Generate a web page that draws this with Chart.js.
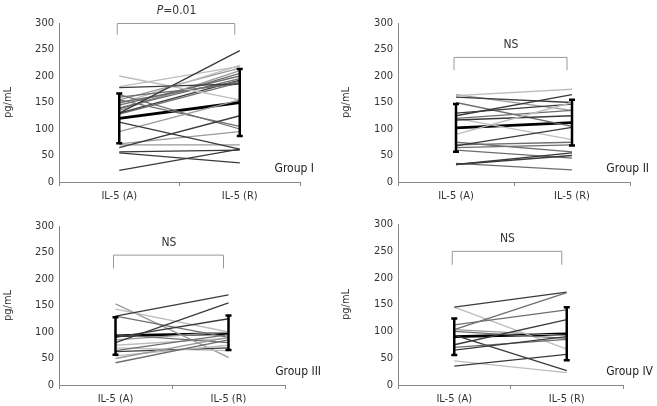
<!DOCTYPE html>
<html lang="en">
<head>
<meta charset="UTF-8">
<title>IL-5 groups</title>
<style>
  body { margin: 0; background: #fff; overflow: hidden; }
  .panel { position: absolute; }
</style>
</head>
<body>
<div class="panel" style="left:0;top:0;width:330px;height:205px"><canvas id="c1"></canvas></div>
<div class="panel" style="left:330px;top:0;width:327px;height:205px"><canvas id="c2"></canvas></div>
<div class="panel" style="left:0;top:205px;width:330px;height:201px"><canvas id="c3"></canvas></div>
<div class="panel" style="left:330px;top:205px;width:327px;height:201px"><canvas id="c4"></canvas></div>

<script src="https://cdn.jsdelivr.net/npm/chart.js"></script>
<script>
const labels = ['IL-5 (A)', 'IL-5 (R)'];
const yTicks = [0, 50, 100, 150, 200, 250, 300];

// Group I, per-subject values (A -> R)
const g1A = [22, 55, 57, 65, 113, 70, 72, 95, 178, 200, 130, 180, 165, 140, 145, 150, 135, 155, 160, 130, 138, 128, 148, 155];
const g1R = [62, 36, 60, 125, 62, 70, 95, 155, 185, 155, 248, 218, 100, 195, 200, 190, 210, 105, 185, 192, 205, 188, 220, 215];
const g1Tone = [0, 0, 0, 0, 0, 2, 2, 2, 0, 3, 0, 3, 1, 1, 1, 1, 2, 1, 1, 0, 1, 1, 3, 2];
const g1Mean = [120, 150];
const g1Lo = [73, 87];
const g1Hi = [167, 213];

// Group II
const g2A = [33, 33, 35, 60, 65, 68, 70, 90, 117, 120, 125, 130, 150, 160, 163, 165, 120, 75];
const g2R = [55, 50, 23, 45, 70, 103, 75, 150, 125, 135, 165, 147, 105, 150, 175, 135, 80, 57];
const g2Tone = [0, 0, 1, 1, 1, 0, 1, 3, 0, 1, 0, 0, 1, 0, 3, 2, 3, 1];
const g2Mean = [102, 112];
const g2Lo = [57, 69];
const g2Hi = [147, 155];

// Group III
const g3A = [42, 50, 55, 63, 65, 70, 80, 90, 130, 130, 143, 153, 95, 85, 75];
const g3R = [85, 90, 75, 70, 95, 65, 155, 125, 170, 90, 100, 52, 80, 100, 88];
const g3Tone = [1, 2, 3, 0, 1, 3, 0, 0, 0, 1, 3, 2, 1, 2, 3];
const g3Mean = [93, 97];
const g3Lo = [57, 66];
const g3Hi = [128, 131];

// Group IV
const g4A = [35, 45, 65, 70, 75, 100, 103, 112, 145, 145, 93, 103];
const g4R = [57, 23, 90, 85, 122, 87, 172, 140, 173, 67, 27, 92];
const g4Tone = [0, 3, 0, 1, 0, 1, 1, 1, 0, 3, 0, 2];
const g4Mean = [90, 95];
const g4Lo = [56, 46];
const g4Hi = [124, 145];

const tones = ['#3a3a3a', '#6e6e6e', '#9a9a9a', '#bdbdbd'];
const FONT = "'DejaVu Sans Condensed', 'Liberation Sans Narrow', 'Roboto', sans-serif";

const overlay = {
    id: 'overlay',
    afterDatasetsDraw(chart, args, o) {
        const ctx = chart.ctx;
        const x = chart.scales.x, y = chart.scales.y;
        const xa = x.getPixelForValue(0), xr = x.getPixelForValue(1);
        ctx.save();
        // error bars
        ctx.strokeStyle = '#000';
        ctx.lineWidth = 2.5;
        [0, 1].forEach(i => {
            const px = x.getPixelForValue(i);
            const lo = y.getPixelForValue(o.lo[i]), hi = y.getPixelForValue(o.hi[i]);
            ctx.beginPath();
            ctx.moveTo(px, lo); ctx.lineTo(px, hi);
            ctx.moveTo(px - 3, lo); ctx.lineTo(px + 3, lo);
            ctx.moveTo(px - 3, hi); ctx.lineTo(px + 3, hi);
            ctx.stroke();
        });
        // significance bracket
        const top = y.getPixelForValue(o.bracket[0]), foot = y.getPixelForValue(o.bracket[1]);
        ctx.strokeStyle = '#999';
        ctx.lineWidth = 1;
        ctx.beginPath();
        ctx.moveTo(xa - 2, foot); ctx.lineTo(xa - 2, top + 0.5); ctx.lineTo(xr - 5, top + 0.5); ctx.lineTo(xr - 5, foot);
        ctx.stroke();
        ctx.fillStyle = '#333';
        ctx.textBaseline = 'middle';
        const mid = (xa + xr) / 2 - 3, ty = top - 12;
        if (o.p) {
            ctx.font = 'italic 12px ' + FONT;
            const w1 = ctx.measureText('P').width;
            ctx.font = '12px ' + FONT;
            const w2 = ctx.measureText('=0.01').width;
            const sx = mid - (w1 + w2) / 2;
            ctx.textAlign = 'left';
            ctx.font = 'italic 12px ' + FONT;
            ctx.fillText('P', sx, ty);
            ctx.font = '12px ' + FONT;
            ctx.fillText('=0.01', sx + w1, ty);
        } else {
            ctx.font = '12px ' + FONT;
            ctx.textAlign = 'center';
            ctx.fillText('NS', mid, ty);
        }
        // group label
        ctx.font = '12px ' + FONT;
        ctx.fillStyle = '#222';
        ctx.textAlign = 'right';
        ctx.fillText(o.group, chart.chartArea.right + o.gdx, chart.chartArea.bottom - 13);
        ctx.restore();
    }
};

function makePanel(id, a, r, tone, mean, lo, hi, cfg) {
    const datasets = a.map((v, i) => ({
        data: [v, r[i]],
        borderColor: tones[tone[i]],
        borderWidth: 1.3,
        pointRadius: 0,
        fill: false
    }));
    datasets.push({ data: mean, borderColor: '#000', borderWidth: 2.8, pointRadius: 0 });

    const el = document.getElementById(id);
    const W = el.parentNode.clientWidth, H = el.parentNode.clientHeight;
    new Chart(el, {
        type: 'line',
        data: { labels: labels, datasets: datasets },
        options: {
            responsive: true,
            maintainAspectRatio: false,
            animation: false,
            events: [],
            layout: { padding: { left: cfg.padLeft, right: W - cfg.right, top: cfg.top, bottom: 0 } },
            plugins: {
                legend: { display: false },
                tooltip: { enabled: false },
                overlay: { lo: lo, hi: hi, bracket: cfg.bracket, p: cfg.p, group: cfg.group, gdx: cfg.gdx }
            },
            scales: {
                x: {
                    offset: true,
                    grid: { offset: true, drawOnChartArea: false, tickLength: 4, color: '#888' },
                    border: { color: '#888' },
                    ticks: { color: '#333', font: { family: FONT, size: 11 }, padding: 4, maxRotation: 0 },
                    afterFit: s => { s.height = H - cfg.bottom; }
                },
                y: {
                    min: 0, max: 300,
                    afterBuildTicks: s => { s.ticks = yTicks.map(v => ({ value: v })); },
                    grid: { drawOnChartArea: false, drawTicks: false },
                    border: { color: '#888' },
                    ticks: { color: '#333', font: { family: FONT, size: 11 }, padding: 5 },
                    title: { display: true, text: 'pg/mL', color: '#333', font: { family: FONT, size: 11 }, padding: { top: 2, bottom: 0 } },
                    afterFit: s => { s.width = cfg.left - cfg.padLeft; }
                }
            }
        },
        plugins: [overlay]
    });
}

makePanel('c1', g1A, g1R, g1Tone, g1Mean, g1Lo, g1Hi,
    { padLeft: 0, left: 59, right: 300, top: 23, bottom: 182, bracket: [300, 278], p: true, group: 'Group I', gdx: 14 });
makePanel('c2', g2A, g2R, g2Tone, g2Mean, g2Lo, g2Hi,
    { padLeft: 8, left: 68, right: 300, top: 23, bottom: 182, bracket: [236, 211], p: false, group: 'Group II', gdx: 19 });
makePanel('c3', g3A, g3R, g3Tone, g3Mean, g3Lo, g3Hi,
    { padLeft: 0, left: 59, right: 285, top: 21, bottom: 180, bracket: [246, 220], p: false, group: 'Group III', gdx: 36 });
makePanel('c4', g4A, g4R, g4Tone, g4Mean, g4Lo, g4Hi,
    { padLeft: 8, left: 68, right: 293, top: 19, bottom: 180, bracket: [250, 224], p: false, group: 'Group IV', gdx: 30 });
</script>
</body>
</html>
